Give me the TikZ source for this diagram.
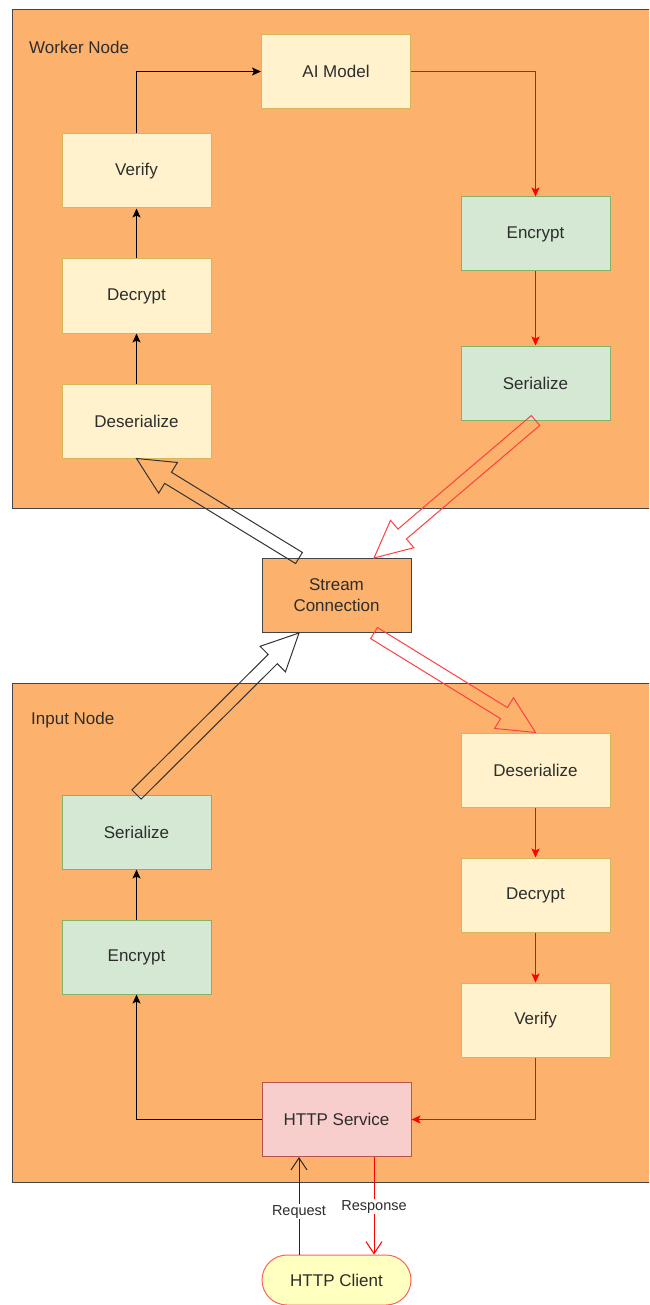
\documentclass[tikz,border=0pt]{standalone}
\usepackage{fontspec}
\setmainfont{Liberation Sans}
\usepackage{xcolor}
\usepackage{tikz}
\usetikzlibrary{arrows.meta, calc, positioning}
\tikzset{>={Stealth[length=9pt,width=8pt,inset=2pt]}}

\definecolor{nodeorange}{RGB}{252,178,108}
\definecolor{bordergray}{RGB}{68,68,68}
\definecolor{paleyellow}{HTML}{FFF2CC}
\definecolor{yellowline}{HTML}{D6B656}
\definecolor{palegreen}{HTML}{D5E8D4}
\definecolor{greenline}{HTML}{82B366}
\definecolor{palered}{HTML}{F8CECC}
\definecolor{redline}{HTML}{B85450}
\definecolor{clientfill}{HTML}{FFFFC0}
\definecolor{clientline}{HTML}{FF6060}
\definecolor{txtgray}{RGB}{45,45,45}
\definecolor{flexred}{HTML}{FF4040}

% hollow block arrow: colour, tail, tip
\newcommand{\flexarrow}[3]{%
    \path (#2) coordinate (fa-t) (#3) coordinate (fa-h);
    \path ($(fa-h)!37pt!(fa-t)$) coordinate (fa-b);
    \draw[#1, line width=1pt, line join=miter]
        ($(fa-t)!6.5pt!90:(fa-h)$) -- ($(fa-b)!6.5pt!90:(fa-h)$) -- ($(fa-b)!18pt!90:(fa-h)$)
        -- (fa-h) -- ($(fa-b)!18pt!-90:(fa-h)$) -- ($(fa-b)!6.5pt!-90:(fa-h)$)
        -- ($(fa-t)!6.5pt!-90:(fa-h)$) -- cycle;
}

\begin{document}
\begin{tikzpicture}[x=1pt, y=-1pt, font=\fontsize{17}{21}\selectfont]
    % Define node styles
    \tikzstyle{cont} = [draw=bordergray, fill=nodeorange, line width=1pt]
    \tikzstyle{stepbox} = [rectangle, minimum width=149pt, minimum height=74pt, inner sep=0pt, line width=1pt, text=txtgray]
    \tikzstyle{yel} = [stepbox, draw=yellowline, fill=paleyellow]
    \tikzstyle{grn} = [stepbox, draw=greenline, fill=palegreen]
    \tikzstyle{blk} = [->, line width=1pt, draw=black]
    \tikzstyle{rd} = [->, line width=1pt, draw=red]
    \tikzstyle{openhead} = [line width=1pt, -{Straight Barb[length=12pt,width=16pt]}]
    \tikzstyle{lbl} = [fill=white, inner sep=1pt, text=txtgray, font=\fontsize{14.5}{16}\selectfont]

    % Canvas
    \clip (0,0) rectangle (649,1305);
    \fill[white] (0,0) rectangle (649,1305);

    % Containers
    \draw[cont] (12,10) rectangle (665,508);
    \draw[cont] (12,683) rectangle (665,1182);
    \node[anchor=west, text=txtgray, inner sep=0pt] (workerlbl) at (29,47) {Worker Node};
    \node[anchor=west, text=txtgray, inner sep=0pt] (inputlbl) at (31,720) {Input Node};

    % Worker node
    \node[yel] (wdeser) at (136.5,421) {Deserialize};
    \node[yel, above=50pt of wdeser] (wdecrypt) {Decrypt};
    \node[yel, above=50pt of wdecrypt] (wverify) {Verify};
    \node[yel] (wmodel) at (336,71.5) {AI Model};
    \node[grn] (wencrypt) at (535.5,234) {Encrypt};
    \node[grn, below=74pt of wencrypt] (wserial) {Serialize};

    % Stream connection
    \node[stepbox, draw=bordergray, fill=nodeorange, align=center] (stream) at (336.5,595.5) {Stream\\Connection};

    % Input node
    \node[yel] (ideser) at (535.5,770) {Deserialize};
    \node[yel, below=50pt of ideser] (idecrypt) {Decrypt};
    \node[yel, below=50pt of idecrypt] (iverify) {Verify};
    \node[grn] (iserial) at (136.5,832) {Serialize};
    \node[grn, below=50pt of iserial] (iencrypt) {Encrypt};
    \node[stepbox, draw=redline, fill=palered] (ihttp) at (336.5,1119.5) {HTTP Service};
    \node[stepbox, minimum height=50pt, rounded corners=25pt, draw=clientline, fill=clientfill] (client) at (336.5,1280) {HTTP Client};

    % Arrows in the worker node
    \draw[blk] (wdeser) -- (wdecrypt);
    \draw[blk] (wdecrypt) -- (wverify);
    \draw[blk] (wverify.north) |- (wmodel.west);
    \draw[rd] (wmodel.east) -| (wencrypt.north);
    \draw[rd] (wencrypt) -- (wserial);

    % Arrows in the input node
    \draw[blk] (ihttp.west) -| (iencrypt.south);
    \draw[blk] (iencrypt) -- (iserial);
    \draw[rd] (ideser) -- (idecrypt);
    \draw[rd] (idecrypt) -- (iverify);
    \draw[rd] (iverify.south) |- (ihttp.east);

    % Block arrows through the stream connection
    \coordinate (sn1) at ($(stream.north west)!0.25!(stream.north east)$);
    \coordinate (sn2) at ($(stream.north west)!0.75!(stream.north east)$);
    \coordinate (ss1) at ($(stream.south west)!0.25!(stream.south east)$);
    \coordinate (ss2) at ($(stream.south west)!0.75!(stream.south east)$);
    \flexarrow{black!80}{sn1}{wdeser.south}
    \flexarrow{flexred}{wserial.south}{sn2}
    \flexarrow{black!80}{iserial.north}{ss1}
    \flexarrow{flexred}{ss2}{ideser.north}

    % Request and response
    \coordinate (hs1) at ($(ihttp.south west)!0.25!(ihttp.south east)$);
    \coordinate (hs2) at ($(ihttp.south west)!0.75!(ihttp.south east)$);
    \coordinate (cn1) at ($(client.north west)!0.25!(client.north east)$);
    \coordinate (cn2) at ($(client.north west)!0.75!(client.north east)$);
    \draw[openhead, draw=black!85] (cn1) -- node[lbl, pos=0.44] {Request} (hs1);
    \draw[openhead, draw=red] (hs2) -- node[lbl, pos=0.51] {Response} (cn2);
\end{tikzpicture}
\end{document}
